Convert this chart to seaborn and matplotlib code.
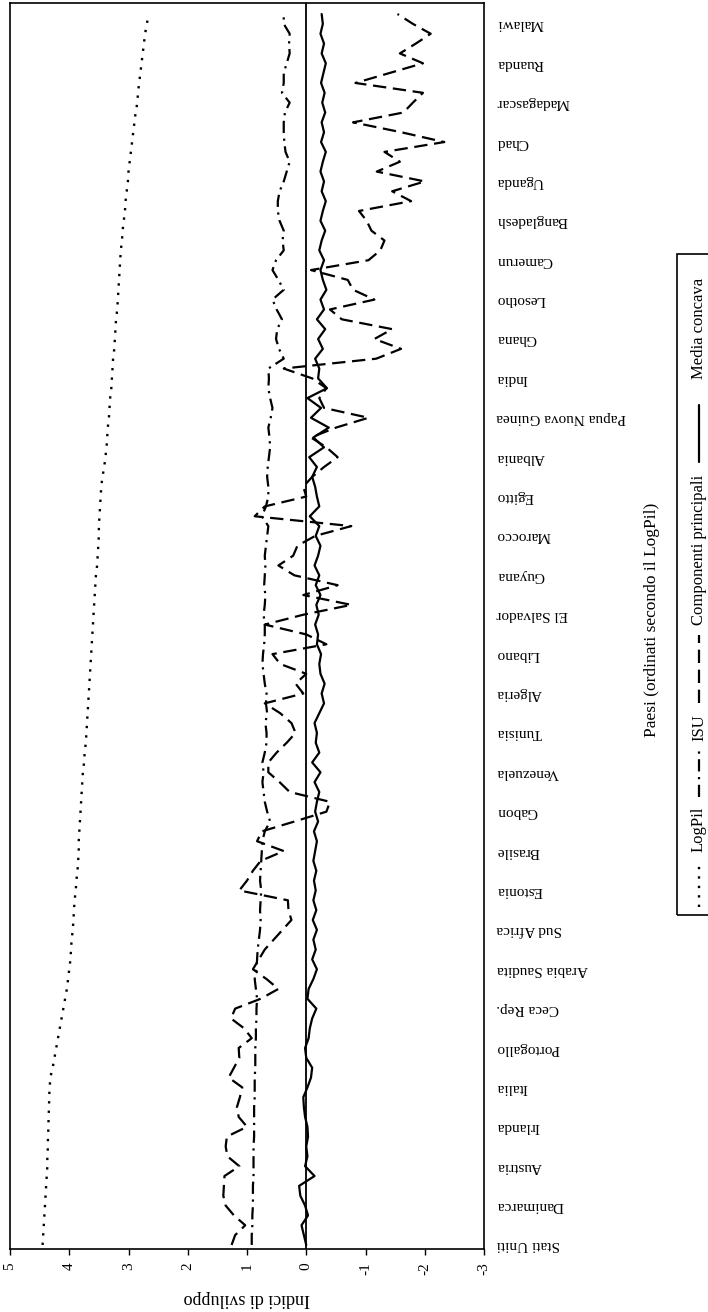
import numpy as np
import pandas as pd
import matplotlib
matplotlib.use("Agg")
import matplotlib.pyplot as plt
from matplotlib.lines import Line2D
from matplotlib.patches import Rectangle
import seaborn as sns

# ---------------- data ----------------
labeled_countries = [
    "Stati Uniti", "Danimarca", "Austria", "Irlanda", "Italia", "Portogallo",
    "Ceca Rep.", "Arabia Saudita", "Sud Africa", "Estonia", "Brasile", "Gabon",
    "Venezuela", "Tunisia", "Algeria", "Libano", "El Salvador", "Guyana",
    "Marocco", "Egitto", "Albania", "Papua Nuova Guinea", "India", "Ghana",
    "Lesotho", "Camerun", "Bangladesh", "Uganda", "Chad", "Madagascar",
    "Ruanda", "Malawi",
]

log_pil = [
    4.45, 4.44, 4.43, 4.42, 4.41, 4.40, 4.39, 4.38, 4.37, 4.37,
    4.36, 4.36, 4.35, 4.35, 4.34, 4.34, 4.33, 4.32, 4.28, 4.25,
    4.22, 4.19, 4.16, 4.13, 4.10, 4.07, 4.04, 4.02, 4.00, 3.98,
    3.97, 3.96, 3.94, 3.93, 3.92, 3.91, 3.89, 3.88, 3.86, 3.85,
    3.84, 3.84, 3.83, 3.82, 3.81, 3.80, 3.79, 3.78, 3.77, 3.75,
    3.74, 3.72, 3.71, 3.70, 3.69, 3.68, 3.67, 3.66, 3.65, 3.64,
    3.63, 3.62, 3.61, 3.60, 3.59, 3.58, 3.57, 3.56, 3.55, 3.53,
    3.52, 3.51, 3.50, 3.50, 3.49, 3.48, 3.47, 3.46, 3.44, 3.41,
    3.39, 3.37, 3.36, 3.35, 3.33, 3.32, 3.31, 3.29, 3.28, 3.27,
    3.26, 3.24, 3.23, 3.22, 3.21, 3.19, 3.18, 3.17, 3.16, 3.15,
    3.14, 3.13, 3.11, 3.10, 3.08, 3.06, 3.05, 3.03, 3.01, 3.00,
    2.98, 2.96, 2.94, 2.92, 2.90, 2.88, 2.85, 2.84, 2.82, 2.80,
    2.78, 2.76, 2.74, 2.72, 2.69, 2.66,
]

isu = [
    0.92, 0.92, 0.91, 0.91, 0.90, 0.90, 0.90, 0.89, 0.89, 0.89,
    0.89, 0.88, 0.88, 0.88, 0.88, 0.87, 0.87, 0.87, 0.86, 0.86,
    0.86, 0.85, 0.85, 0.84, 0.84, 0.83, 0.85, 0.87, 0.84, 0.83,
    0.82, 0.80, 0.78, 0.77, 0.78, 0.77, 0.76, 0.78, 0.77, 0.76,
    0.75, 0.74, 0.70, 0.61, 0.66, 0.70, 0.72, 0.74, 0.72, 0.74,
    0.70, 0.67, 0.67, 0.69, 0.66, 0.68, 0.67, 0.70, 0.72, 0.74,
    0.73, 0.71, 0.70, 0.70, 0.72, 0.70, 0.69, 0.71, 0.70, 0.69,
    0.70, 0.68, 0.66, 0.64, 0.75, 0.68, 0.64, 0.64, 0.66, 0.65,
    0.63, 0.61, 0.62, 0.64, 0.60, 0.57, 0.61, 0.64, 0.63, 0.64,
    0.38, 0.46, 0.51, 0.49, 0.41, 0.50, 0.57, 0.38, 0.47, 0.57,
    0.51, 0.38, 0.40, 0.38, 0.45, 0.48, 0.48, 0.45, 0.38, 0.33,
    0.28, 0.35, 0.37, 0.38, 0.38, 0.36, 0.28, 0.41, 0.38, 0.38,
    0.33, 0.28, 0.29, 0.28, 0.38, 0.38,
]

componenti = [
    1.26, 1.20, 1.03, 1.22, 1.36, 1.40, 1.39, 1.38, 1.13, 1.33,
    1.36, 1.34, 1.00, 1.14, 1.17, 1.12, 1.08, 1.31, 1.22, 1.13,
    1.14, 0.92, 1.05, 1.27, 1.20, 0.77, 0.47, 0.67, 0.90, 0.80,
    0.70, 0.55, 0.40, 0.25, 0.30, 0.31, 1.13, 1.00, 0.90, 0.77,
    0.38, 0.83, 0.75, 0.20, -0.34, -0.40, 0.28, 0.45, 0.64, 0.64,
    0.50, 0.33, 0.18, 0.25, 0.44, 0.70, 0.05, 0.18, 0.00, 0.44,
    0.57, -0.34, 0.00, 0.70, 0.05, -0.76, 0.05, -0.53, 0.20, 0.47,
    0.22, 0.15, -0.15, -0.76, 0.87, 0.70, 0.00, 0.05, -0.10, -0.30,
    -0.53, -0.34, -0.08, -0.50, -1.05, -0.30, -0.22, -0.34, -0.10, 0.38,
    -1.18, -1.60, -1.15, -1.45, -0.60, -0.40, -1.15, -0.79, -0.70, -0.08,
    -1.05, -1.25, -1.32, -1.10, -1.02, -0.89, -1.77, -1.45, -2.00, -1.19,
    -1.58, -1.32, -2.33, -1.60, -0.79, -1.64, -1.80, -1.97, -0.83, -1.40,
    -1.97, -1.58, -1.85, -2.10, -1.80, -1.54,
]

media_concava = [
    0.00, 0.04, 0.08, -0.03, 0.02, 0.10, 0.12, -0.14, 0.02, -0.02,
    0.00, -0.03, -0.02, 0.02, 0.04, 0.05, -0.02, -0.08, -0.10, 0.00,
    0.02, -0.04, -0.06, -0.10, -0.17, -0.02, -0.04, -0.12, -0.18, -0.10,
    -0.16, -0.12, -0.18, -0.11, -0.17, -0.12, -0.16, -0.13, -0.17, -0.12,
    -0.15, -0.18, -0.13, -0.20, -0.15, -0.18, -0.22, -0.14, -0.24, -0.10,
    -0.22, -0.16, -0.18, -0.14, -0.22, -0.30, -0.26, -0.31, -0.24, -0.22,
    -0.25, -0.18, -0.20, -0.15, -0.21, -0.17, -0.24, -0.16, -0.22, -0.14,
    -0.20, -0.24, -0.16, -0.22, -0.06, -0.22, -0.18, -0.15, -0.10, -0.18,
    -0.05, -0.30, -0.12, -0.38, -0.08, -0.25, -0.02, -0.35, -0.20, -0.22,
    -0.15, -0.28, -0.20, -0.32, -0.18, -0.30, -0.24, -0.34, -0.28, -0.24,
    -0.30, -0.22, -0.26, -0.32, -0.24, -0.28, -0.33, -0.26, -0.30, -0.24,
    -0.28, -0.33, -0.25, -0.30, -0.26, -0.32, -0.27, -0.31, -0.25, -0.29,
    -0.33, -0.26, -0.30, -0.24, -0.28, -0.26,
]

value_ticks = [5, 4, 3, 2, 1, 0, -1, -2, -3]
value_tick_labels = ["5", "4", "3", "2", "1", "0", "-1", "-2", "-3"]

series_names = ["LogPil", "ISU", "Componenti principali", "Media concava"]

# ---------------- style ----------------
sns.set_theme(style="white")
plt.rcParams["font.family"] = ["Liberation Serif", "DejaVu Serif"]

W, H = 708, 1312
fig = plt.figure(figsize=(W / 100, H / 100), dpi=100)
ax = fig.add_axes([10 / W, 1 - 1249 / H, 474 / W, 1246 / H])

n = len(log_pil)
pos = np.arange(n)
df = pd.DataFrame({
    "pos": pos,
    "LogPil": log_pil,
    "ISU": isu,
    "Componenti principali": componenti,
    "Media concava": media_concava,
})

line_styles = {
    "LogPil": ((0, (1, 3)), 1.7),
    "ISU": ((0, (5.5, 2.5, 1, 2.5)), 1.6),
    "Componenti principali": ((0, (6, 3)), 1.6),
    "Media concava": ("-", 1.6),
}

for name in series_names:
    ls, lw = line_styles[name]
    sns.lineplot(data=df, x=name, y="pos", orient="y", estimator=None,
                 sort=False, color="black", linestyle=ls, linewidth=lw, ax=ax)

ax.axvline(0, color="black", lw=1.3, zorder=1)

ax.set_xlim(5, -3)
ax.set_ylim(-0.41, 126.12)

ax.set_xticks(value_ticks)
ax.set_xticklabels(value_tick_labels, rotation=90, fontsize=11)
ax.tick_params(axis="x", bottom=True, length=4.5, width=1, direction="out",
               color="black", pad=5, labelcolor="black")

ax.yaxis.tick_right()
ax.set_yticks(pos[::4])
ax.set_yticklabels(labeled_countries, rotation=180, ha="left", va="center",
                   fontsize=11)
ax.tick_params(axis="y", right=True, left=False, length=0, pad=9,
               labelcolor="black")

ax.set_ylabel("")
ax.set_xlabel("Indici di sviluppo", rotation=180, fontsize=13,
              va="center", color="black")
ax.xaxis.set_label_coords(0.5, -(1298 - 1249) / 1246)

for sp in ax.spines.values():
    sp.set_color("black")
    sp.set_linewidth(1.2)
    sp.set_visible(True)

# x-axis title of the (rotated) chart
fig.text(652 / W, 1 - 620 / H, "Paesi (ordinati secondo il LogPil)",
         rotation=90, ha="center", va="center", fontsize=12.5, color="black")

# ---------------- legend (rotated, drawn by hand) ----------------
def fy(y):
    return 1 - y / H

fig.patches.append(Rectangle((677 / W, fy(915)), 40 / W, (915 - 254) / H,
                             transform=fig.transFigure, fill=False,
                             edgecolor="black", lw=1.2))
lx = 699 / W
legend_layout = [
    ("LogPil", (907, 860), 829),
    ("ISU", (797, 750), 728),
    ("Componenti principali", (703, 635), 550),
    ("Media concava", (462, 405), 328),
]
for name, (y0, y1), ty in legend_layout:
    ls, lw = line_styles[name]
    fig.lines.append(Line2D([lx, lx], [fy(y0), fy(y1)], transform=fig.transFigure,
                            color="black", linestyle=ls, linewidth=lw))
    fig.text(lx, fy(ty), name, rotation=90, ha="center", va="center",
             fontsize=12, color="black")

fig.savefig("out.png", dpi=100)
